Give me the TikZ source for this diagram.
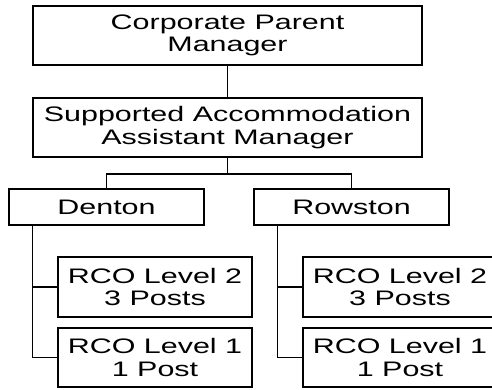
\documentclass[tikz,border=0pt]{standalone}
\usepackage{fontspec}
\setmainfont[FakeStretch=1.45]{Liberation Sans}
\begin{document}
\begin{tikzpicture}[x=1pt,y=-1pt,
  post/.style={draw=black,line width=1.5pt,inner sep=0pt,align=center,
    font=\fontsize{21}{22.5}\selectfont},
  link/.style={draw=black,line width=1.5pt}]
\useasboundingbox (0,0) rectangle (492,389);
\clip (0,0) rectangle (492,389);
\node [post,minimum width=389,minimum height=59] (parent) at (227.5,35.5) {Corporate Parent\\Manager};
\node [post,minimum width=389,minimum height=59] (mgr) at (227.5,127.5) {Supported Accommodation\\Assistant Manager};
\draw [link] (parent.south) -- (mgr.north);
  \foreach \site/\dx in {Denton/0,Rowston/245}
  { \node [post,minimum width=195,minimum height=36] (\site) at (106.5+\dx,207) {\site};
    \node [post,minimum width=194,minimum height=60] (\site2) at (155+\dx,287) {RCO Level 2\\3 Posts};
    \node [post,minimum width=194,minimum height=59] (\site1) at (155+\dx,357.5) {RCO Level 1\\1 Post};
    \draw [link] (mgr.south) -- ++(0,16) -| (\site.north);
    \draw [link] ([xshift=24]\site.south west) |- (\site2.west);
    \draw [link] ([xshift=24]\site.south west) |- (\site1.west);}
\end{tikzpicture}
\end{document}
